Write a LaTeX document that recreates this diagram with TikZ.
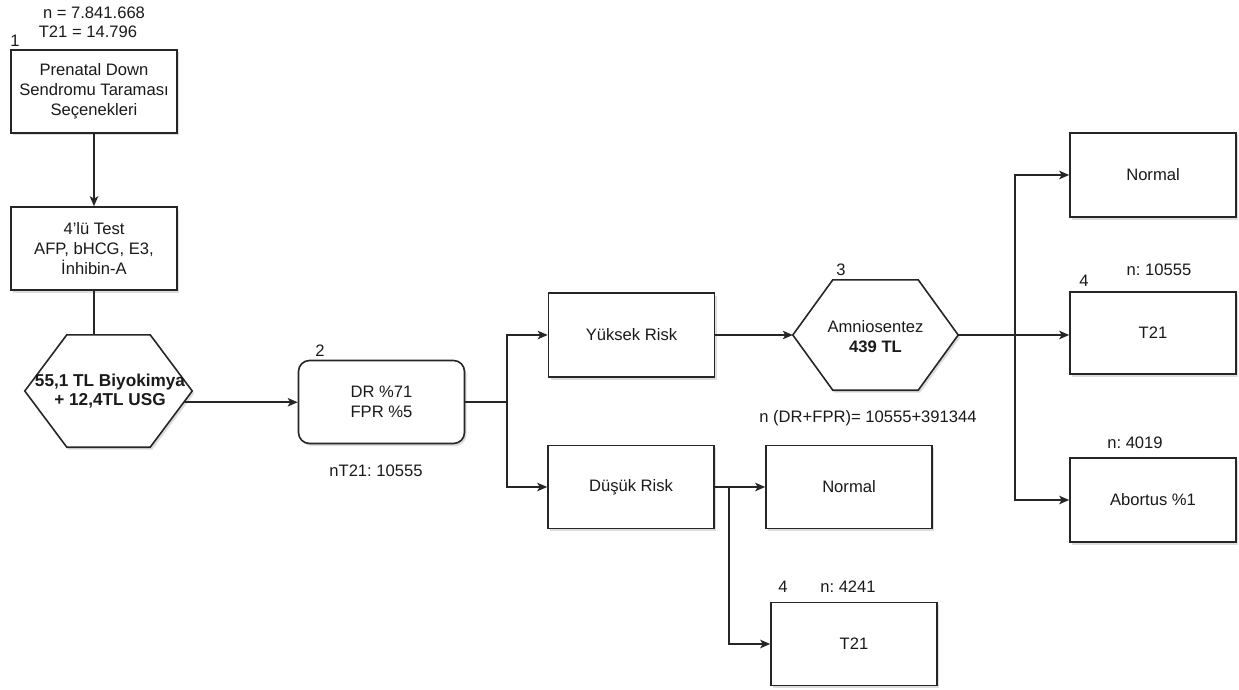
\documentclass[tikz,border=0pt]{standalone}
\usepackage{fontspec}
\setmainfont{Liberation Sans}
\usetikzlibrary{arrows.meta,calc,shadows}
\frenchspacing

\definecolor{ink}{HTML}{1A1A1A}
\definecolor{edge}{HTML}{262626}

\tikzset{
  base/.style={font=\fontsize{16.6}{20}\selectfont, text=ink},
  softshadow/.style={drop shadow={shadow xshift=2pt, shadow yshift=-2.5pt, opacity=0.22, fill=black!60}},
  box/.style={base, draw=edge, line width=1.6pt, fill=white, softshadow,
    minimum width=166pt, minimum height=83pt, align=center, inner sep=2pt},
  roundbox/.style={box, rounded corners=11pt},
  hexarea/.style={base, align=center, inner sep=0pt},
  hexline/.style={draw=edge, line width=1.6pt, fill=white, softshadow},
  tag/.style={base, inner sep=1pt},
  link/.style={draw=edge, line width=1.6pt},
  arr/.style={link, -{Stealth[length=10pt, width=8.5pt, inset=2.5pt]}},
}

\begin{document}
\begin{tikzpicture}[x=1pt, y=-1pt]
\useasboundingbox (0,0) rectangle (1239,690);

% --- left column -----------------------------------------------------
\node[tag] (nall) at (94,13) {n = 7.841.668};
\node[tag] (tall) at (88,32) {T21 = 14.796};
\node[tag] (l1) at (15,41) {1};

\node[box] (b1) at (94,91.5) {Prenatal Down\\Sendromu Taraması\\Seçenekleri};
\node[box] (b2) at (94,248.5) {4'lü Test\\AFP, bHCG, E3,\\İnhibin-A};

% cost hexagon (biochemistry + ultrasound)
\node[hexarea, minimum width=167pt, minimum height=112pt] (hx1) at (108.5,391) {};
\path[hexline] (hx1.west) -- ([xshift=42pt]hx1.north west) -- ([xshift=-42pt]hx1.north east)
  -- (hx1.east) -- ([xshift=-42pt]hx1.south east) -- ([xshift=42pt]hx1.south west) -- cycle;
\node[hexarea, font=\fontsize{17.2}{19}\selectfont\bfseries] (hx1t) at (110,391) {55,1 TL Biyokimya\\+ 12,4TL USG};

% --- screening result ----------------------------------------------
\node[roundbox] (dr) at (381.5,402) {DR \%71\\FPR \%5};
\node[tag] (l2) at (320,351) {2};
\node[tag] (nt) at (376,471) {nT21: 10555};

\node[box, minimum height=84pt] (yr) at (631.5,335) {Yüksek Risk};
\node[box] (dk) at (631,487) {Düşük Risk};

% amniocentesis hexagon
\node[hexarea, minimum width=165pt, minimum height=110pt] (hx2) at (875.5,335) {};
\path[hexline] (hx2.west) -- ([xshift=40pt]hx2.north west) -- ([xshift=-40pt]hx2.north east)
  -- (hx2.east) -- ([xshift=-40pt]hx2.south east) -- ([xshift=40pt]hx2.south west) -- cycle;
\node[hexarea] (hx2t) at (875.5,337) {Amniosentez\\\textbf{439 TL}};
\node[tag] (l3) at (841,270) {3};
\node[tag] (ndr) at (868,418) {n (DR+FPR)= 10555+391344};

% --- outcomes ------------------------------------------------------
\node[box, minimum height=84pt] (n1) at (1153,175) {Normal};
\node[box, minimum height=82pt] (t1) at (1153,333) {T21};
\node[tag] (l4a) at (1084,281) {4};
\node[tag] (nt1) at (1159,270) {n: 10555};
\node[box, minimum height=84pt] (ab) at (1153,500) {Abortus \%1};
\node[tag] (nab) at (1135,443) {n: 4019};

\node[box] (n2) at (849,487) {Normal};
\node[box] (t2) at (854,644) {T21};
\node[tag] (l4b) at (783,587) {4};
\node[tag] (nt2) at (848,587) {n: 4241};

% --- connectors ----------------------------------------------------
\coordinate (j1) at (507,402);
\coordinate (j2) at (1015,335);
\coordinate (j3) at (729,487);

\draw[arr] (b1.south) -- (b2.north);
\draw[link] (b2.south) -- (b2.south |- hx1.north);
\draw[arr] ($(hx1.east)!0.2!([xshift=-42pt]hx1.south east)$) coordinate (s1) -- (s1 -| dr.west);

\draw[link] (dr.east) -- (j1);
\draw[arr] (j1) |- (yr.west);
\draw[arr] (j1) |- (dk.west);

\draw[arr] (yr.east) -- (hx2.west);
\draw[link] (hx2.east) -- (j2);
\draw[arr] (j2) |- (n1.west);
\draw[arr] (j2) -- (j2 -| t1.west);
\draw[arr] (j2) |- (ab.west);

\draw[arr] (dk.east) -- (n2.west);
\draw[arr] (j3) |- (t2.west);
\end{tikzpicture}
\end{document}
